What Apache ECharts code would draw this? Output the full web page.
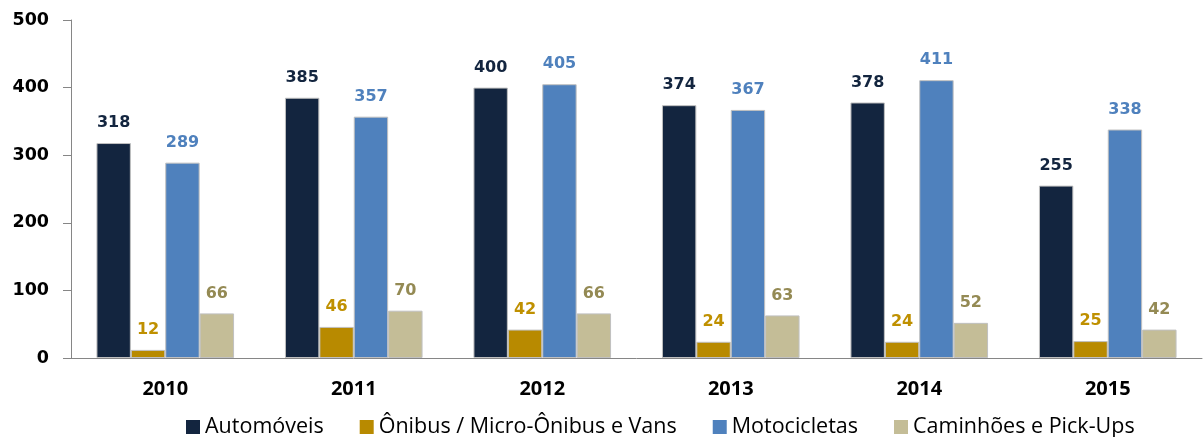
<!DOCTYPE html>
<html>
<head>
<meta charset="utf-8">
<script src="https://cdn.jsdelivr.net/npm/echarts@6/dist/echarts.min.js"></script>
<style>
  html, body { margin: 0; padding: 0; background: #fff; }
  #chart { width: 1203px; height: 437px; }
</style>
</head>
<body>
<div id="chart"></div>
<script>
var years = ['2010', '2011', '2012', '2013', '2014', '2015']
var automoveis = [318, 385, 400, 374, 378, 255]
var onibus = [12, 46, 42, 24, 24, 25]
var motocicletas = [289, 357, 405, 367, 411, 338]
var caminhoes = [66, 70, 66, 63, 52, 42]
var yTicks = [0, 100, 200, 300, 400, 500]

function serie(name, values, color, labelColor) {
    return {
        name: name,
        type: 'bar',
        data: values,
        barGap: 0,
        barCategoryGap: '27%',
        itemStyle: { color: color, borderColor: '#c0c0c0', borderWidth: 1 },
        label: {
            show: true,
            position: 'top',
            distance: 12,
            color: labelColor,
            fontFamily: 'DejaVu Sans',
            fontWeight: 'bold',
            fontSize: 16
        }
    }
}

var chart = echarts.init(document.getElementById('chart'))
chart.setOption({
    animation: false,
    grid: { left: 71, right: 1, top: 20, bottom: 79 },
    legend: {
        left: 181,
        top: 411,
        icon: 'rect',
        itemWidth: 14,
        itemHeight: 14,
        itemGap: 36,
        itemStyle: { borderWidth: 0 },
        textStyle: { fontFamily: 'Open Sans', fontSize: 21.5, color: '#000' }
    },
    xAxis: {
        type: 'category',
        data: years,
        axisLine: { lineStyle: { color: '#868686' } },
        axisTick: { length: 9, lineStyle: { color: '#868686' } },
        axisLabel: {
            margin: 21,
            color: '#000',
            fontFamily: 'Open Sans',
            fontWeight: 'bold',
            fontSize: 20
        }
    },
    yAxis: {
        type: 'value',
        min: yTicks[0],
        max: yTicks[yTicks.length - 1],
        interval: 100,
        splitLine: { show: false },
        axisLine: { show: true, lineStyle: { color: '#868686' } },
        axisTick: { show: true, length: 8, lineStyle: { color: '#868686' } },
        axisLabel: {
            margin: 22,
            color: '#000',
            fontFamily: 'DejaVu Sans',
            fontWeight: 'bold',
            fontSize: 17.5
        }
    },
    series: [
        serie('Automóveis', automoveis, '#13253f', '#13253f'),
        serie('Ônibus / Micro-Ônibus e Vans', onibus, '#b88a00', '#bf9000'),
        serie('Motocicletas', motocicletas, '#4f81bd', '#4f81bd'),
        serie('Caminhões e Pick-Ups', caminhoes, '#c4bd97', '#948a54')
    ]
})
</script>
</body>
</html>
